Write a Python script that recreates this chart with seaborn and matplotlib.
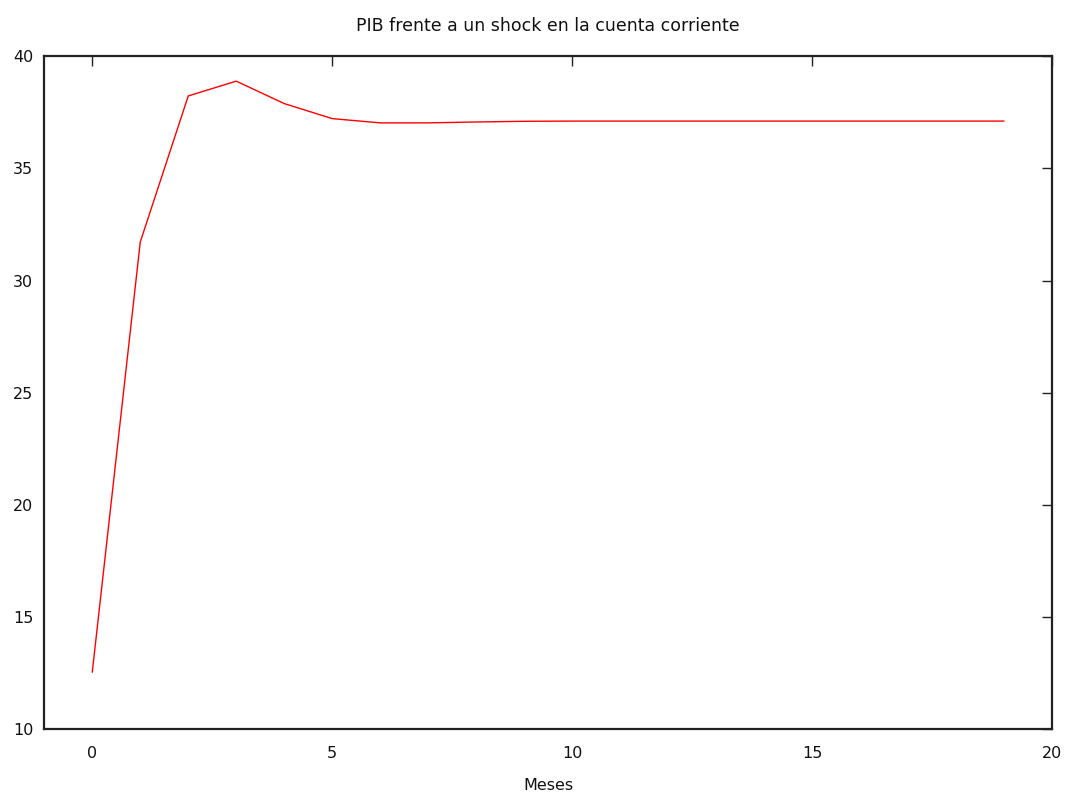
import matplotlib
matplotlib.use("Agg")
from matplotlib import pyplot as plt
import seaborn as sns
import pandas as pd

# respuesta del PIB frente a un shock en la cuenta corriente
meses = list(range(20))
pib = [12.55, 31.72, 38.23, 38.89, 37.89, 37.22, 37.03, 37.03, 37.07, 37.10,
       37.11, 37.11, 37.11, 37.11, 37.11, 37.11, 37.11, 37.11, 37.11, 37.11]
xticks = [0, 5, 10, 15, 20]
yticks = [10, 15, 20, 25, 30, 35, 40]

sns.set_style("white")
plt.rcParams['font.family'] = ['DejaVu Sans']

df = pd.DataFrame({'Meses': meses, 'PIB': pib})

fig = plt.figure(figsize=(10.67, 7.92), dpi=100)
ax = fig.add_axes([0.0415, 0.079, 0.9445, 0.850])
sns.lineplot(x='Meses', y='PIB', data=df, color='#ff0000', linewidth=1.0, ax=ax)

ax.set_xlim(-1, 20)
ax.set_ylim(10, 40)
ax.set_xticks(xticks)
ax.set_yticks(yticks)
ax.tick_params(direction='in', length=7, width=1, color='#222222',
               top=True, right=True, labelsize=11.5, pad=12, labelcolor='#111111')
ax.tick_params(axis='y', pad=8)
for s in ax.spines.values():
    s.set_linewidth(1.6)
    s.set_color('#222222')

ax.set_xlabel('Meses', fontsize=11.5, labelpad=12, color='#111111')
ax.set_ylabel('')
ax.set_title('PIB frente a un shock en la cuenta corriente', fontsize=12.5,
             pad=18, color='#111111')

fig.savefig('out.png', dpi=100)
